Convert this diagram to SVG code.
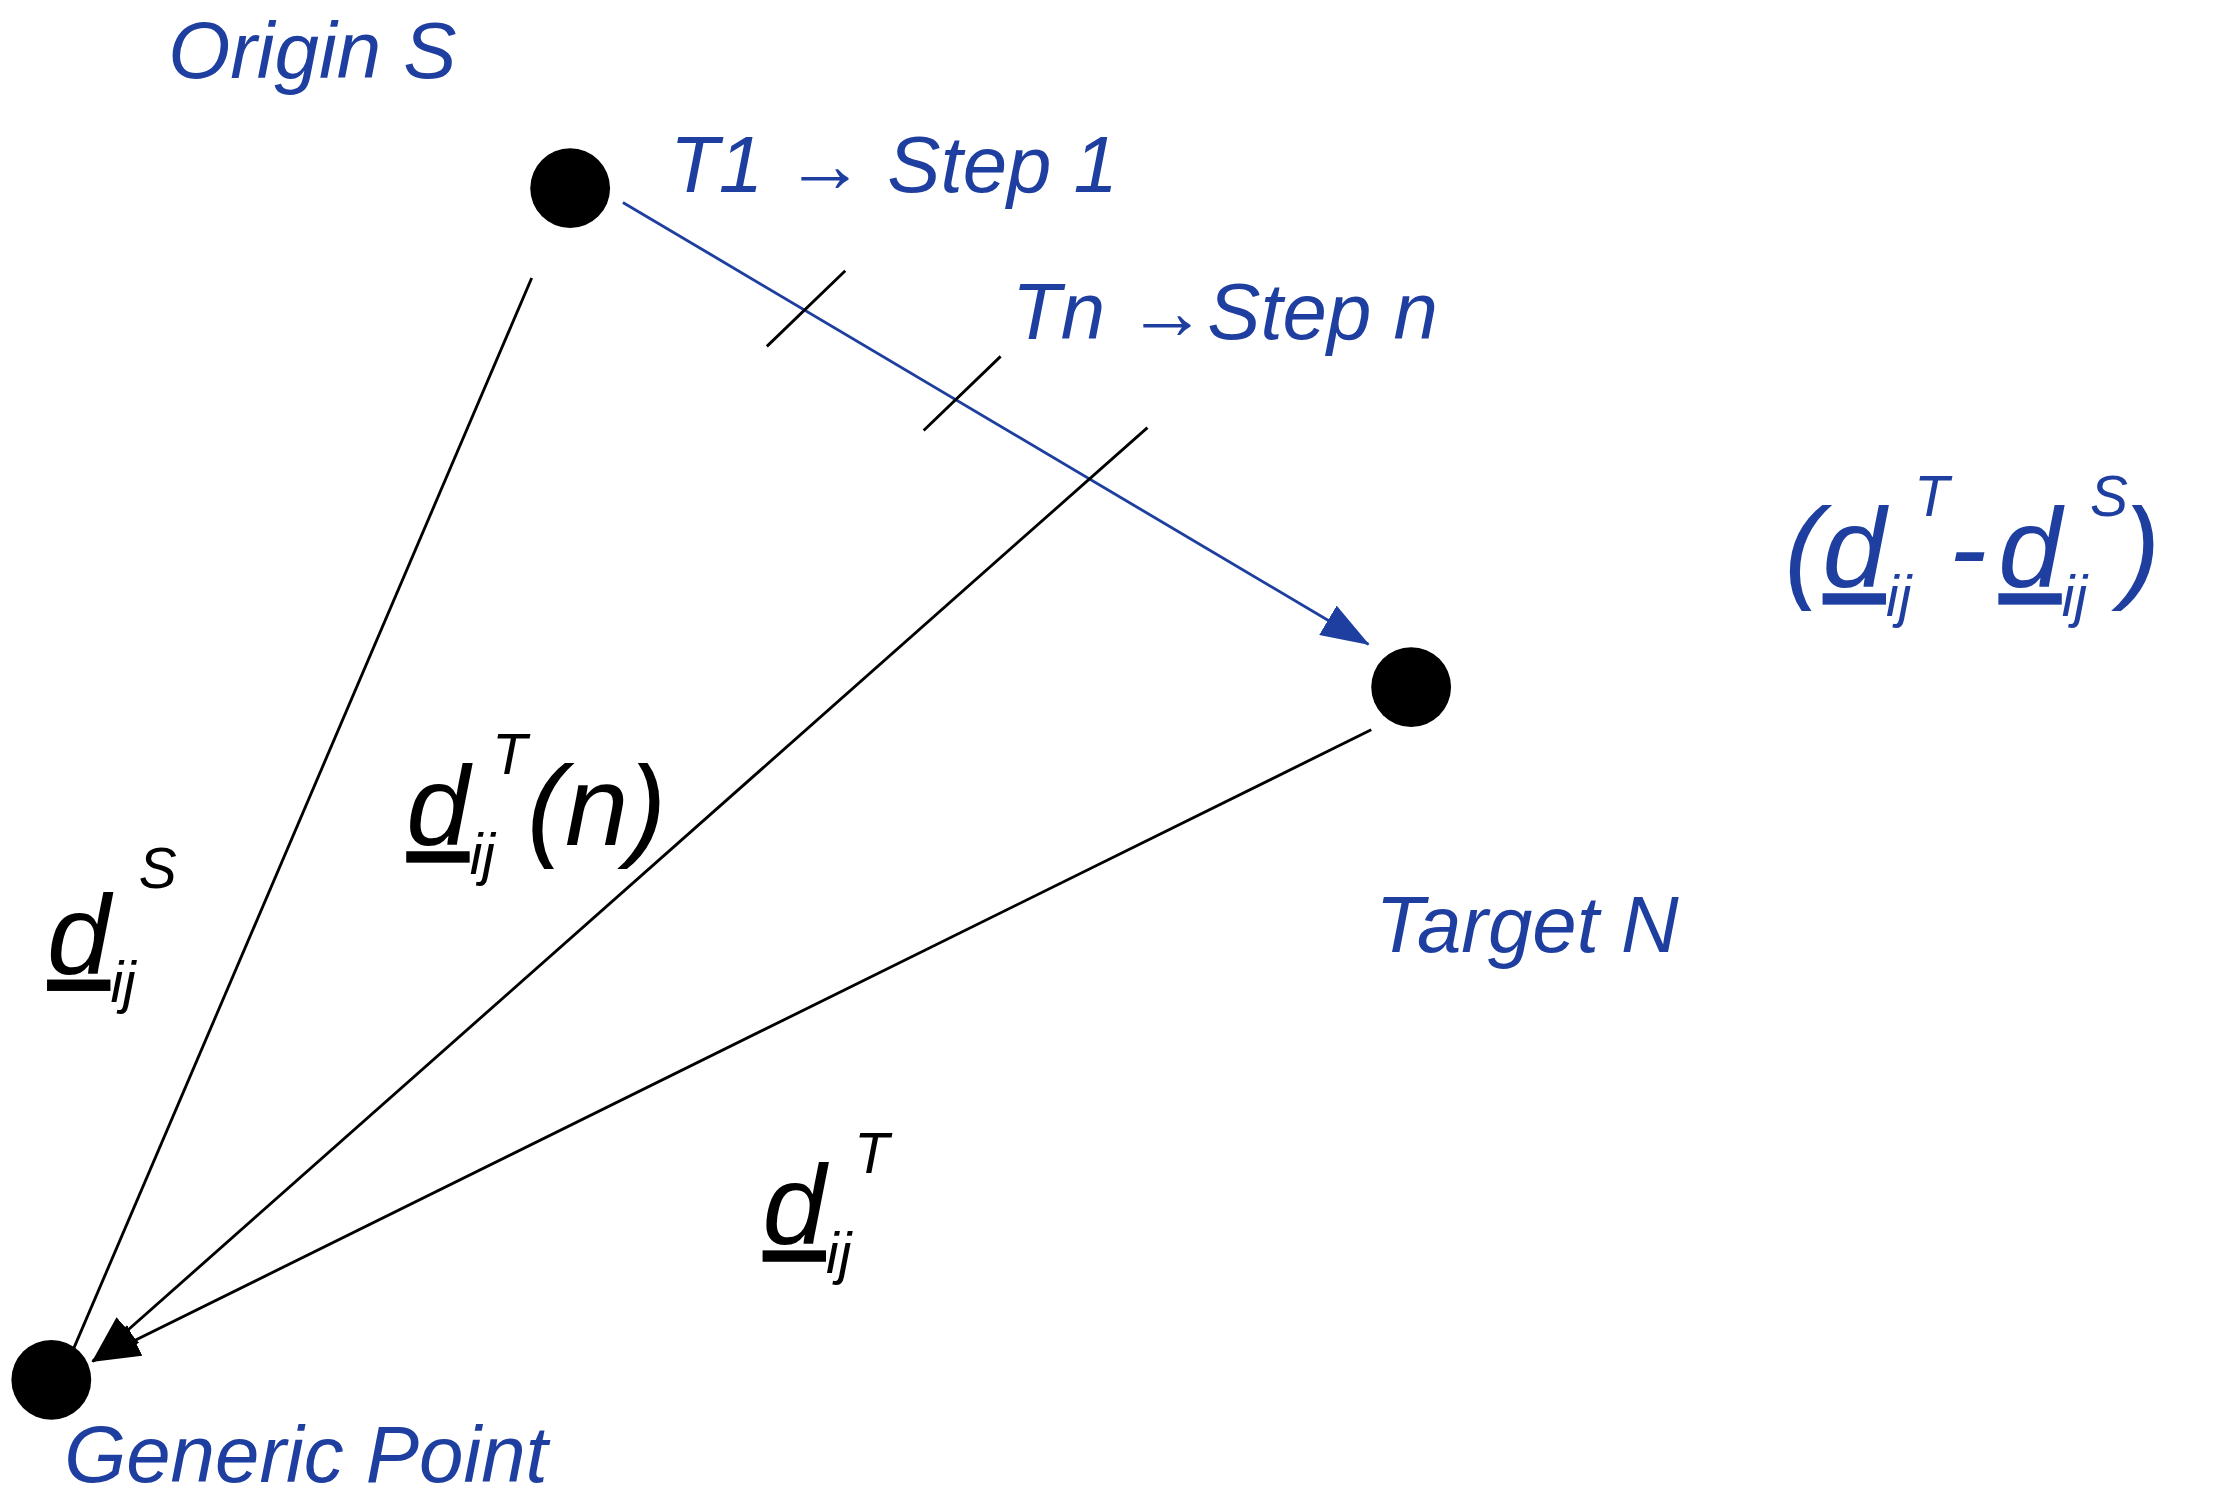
<svg xmlns="http://www.w3.org/2000/svg" width="2235" height="1506" viewBox="0 0 2235 1506">
<style>
.b{fill:#1f3fa0;font-family:"Liberation Sans",Arial,sans-serif;font-style:italic;font-size:56px}
.k{fill:#000;font-family:"Liberation Sans",Arial,sans-serif;font-style:italic}
.big{font-size:80px}
.sm{font-size:40px}
.ln{stroke:#000;stroke-width:2;fill:none}
</style>
<defs>
<marker id="ab" markerWidth="34" markerHeight="24" refX="33" refY="12" orient="auto" markerUnits="userSpaceOnUse" viewBox="0 0 34 24"><path d="M0,0L34,12L0,24z" fill="#1f3fa0"/></marker>
<marker id="ak" markerWidth="34" markerHeight="24" refX="33" refY="12" orient="auto" markerUnits="userSpaceOnUse" viewBox="0 0 34 24"><path d="M0,0L34,12L0,24z" fill="#000"/></marker>
</defs>
<rect width="2235" height="1506" fill="#fff"/>
<g transform="scale(1.4254)">
<g id="connectors">
<line x1="437" y1="142" x2="960" y2="452" stroke="#1f3fa0" stroke-width="2" marker-end="url(#ab)"/>
<line class="ln" x1="538" y1="243" x2="593" y2="190"/>
<line class="ln" x1="648" y1="302" x2="702" y2="250"/>
<line class="ln" x1="373" y1="195" x2="50" y2="950"/>
<line class="ln" x1="805" y1="300" x2="65" y2="955" marker-end="url(#ak)"/>
<line class="ln" x1="962" y1="512" x2="65" y2="955" marker-end="url(#ak)"/>
</g>
<g id="origin"><circle cx="400" cy="132" r="28"/><text class="b" x="118" y="55">Origin S</text></g>
<g id="target"><circle cx="990" cy="482" r="28"/><text class="b" x="965" y="668">Target N</text></g>
<g id="generic"><circle cx="36" cy="968" r="28"/><text class="b" x="45" y="1040">Generic Point</text></g>
<g id="labels">
<text class="b" x="470" y="135">T1 → Step 1</text>
<text class="b" x="710" y="238">Tn →Step n</text>
<text class="k" x="33" y="683"><tspan class="big" text-decoration="underline">d</tspan><tspan class="sm" dy="20">ij</tspan><tspan class="sm" dx="2" dy="-80">S</tspan></text>
<text class="k" x="285" y="593"><tspan class="big" text-decoration="underline">d</tspan><tspan class="sm" dy="20">ij</tspan><tspan class="sm" dx="-2" dy="-70">T</tspan><tspan class="big" dy="50">(n)</tspan></text>
<text class="k" x="535" y="873"><tspan class="big" text-decoration="underline">d</tspan><tspan class="sm" dy="20">ij</tspan><tspan class="sm" dx="2" dy="-70">T</tspan></text>
<text class="b" x="1252" y="412"><tspan class="big">(</tspan><tspan class="big" text-decoration="underline">d</tspan><tspan class="sm" dy="20">ij</tspan><tspan class="sm" dx="2" dy="-70">T</tspan><tspan class="big" dy="50">-</tspan><tspan class="big" dx="8" text-decoration="underline">d</tspan><tspan class="sm" dy="20">ij</tspan><tspan class="sm" dx="2" dy="-70">S</tspan><tspan class="big" dx="-4" dy="50">)</tspan></text>
</g>
</g>
</svg>
